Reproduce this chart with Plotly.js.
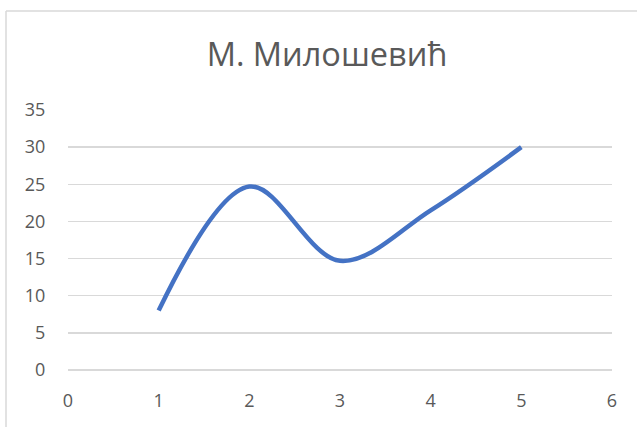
<!DOCTYPE html>
<html>
<head>
<meta charset="utf-8">
<script src="https://cdn.plot.ly/plotly-3.0.1.min.js"></script>
<style>html,body{margin:0;padding:0;background:#fff;}#chart{width:637px;height:427px;}</style>
</head>
<body>
<div id="chart"></div>
<script>
const xValues = [1, 2, 3, 4, 5];
const yValues = [8, 24.7, 14.7, 21.5, 30];
const chartTitle = "М. Милошевић";
const xTicks = [0, 1, 2, 3, 4, 5, 6];
const yTicks = [0, 5, 10, 15, 20, 25, 30, 35];

const L = 68, R = 25, T = 110, B = 57;
const W = 637, H = 427;
const pw = W - L - R, ph = H - T - B;
const px = v => (v - L) / pw;
const py = v => (H - B - v) / ph;

const trace = {
  x: xValues, y: yValues, type: 'scatter', mode: 'lines',
  line: {color: '#4472C4', width: 4.5, shape: 'spline', smoothing: 1},
  hoverinfo: 'skip'
};

const tickFont = {family: 'Open Sans, Noto Sans, sans-serif', size: 18, color: '#595959'};
const layout = {
  width: W, height: H,
  margin: {l: L, r: R, t: T, b: B, pad: 0},
  paper_bgcolor: '#ffffff', plot_bgcolor: '#ffffff',
  showlegend: false,
  title: {text: chartTitle, x: 327 / W, xanchor: 'center', y: 1 - 55/H, yanchor: 'middle',
          font: {family: 'Open Sans, Noto Sans, sans-serif', size: 32.5, color: '#595959'}},
  xaxis: {range: [0, 6], tickvals: xTicks, ticktext: xTicks.map(String), showgrid: false,
          zeroline: false, showline: false, ticks: 'outside', ticklen: 14, tickcolor: 'rgba(0,0,0,0)',
          tickfont: tickFont, fixedrange: true},
  yaxis: {range: [0, 35], tickvals: yTicks, ticktext: yTicks.map(String), showgrid: true,
          gridcolor: '#d9d9d9', gridwidth: 1.5, zeroline: true, zerolinecolor: '#d9d9d9', zerolinewidth: 1.5,
          showline: false, ticks: 'outside', ticklen: 18, tickcolor: 'rgba(0,0,0,0)', tickfont: tickFont, fixedrange: true},
  shapes: [
    {type: 'line', xref: 'paper', yref: 'paper', x0: px(6), x1: px(637), y0: py(11), y1: py(11),
     line: {color: '#d9d9d9', width: 1.5}},
    {type: 'line', xref: 'paper', yref: 'paper', x0: px(6), x1: px(6), y0: py(11), y1: py(427),
     line: {color: '#d9d9d9', width: 1.5}}
  ]
};
Plotly.newPlot('chart', [trace], layout, {displayModeBar: false, staticPlot: true});
</script>
</body>
</html>
